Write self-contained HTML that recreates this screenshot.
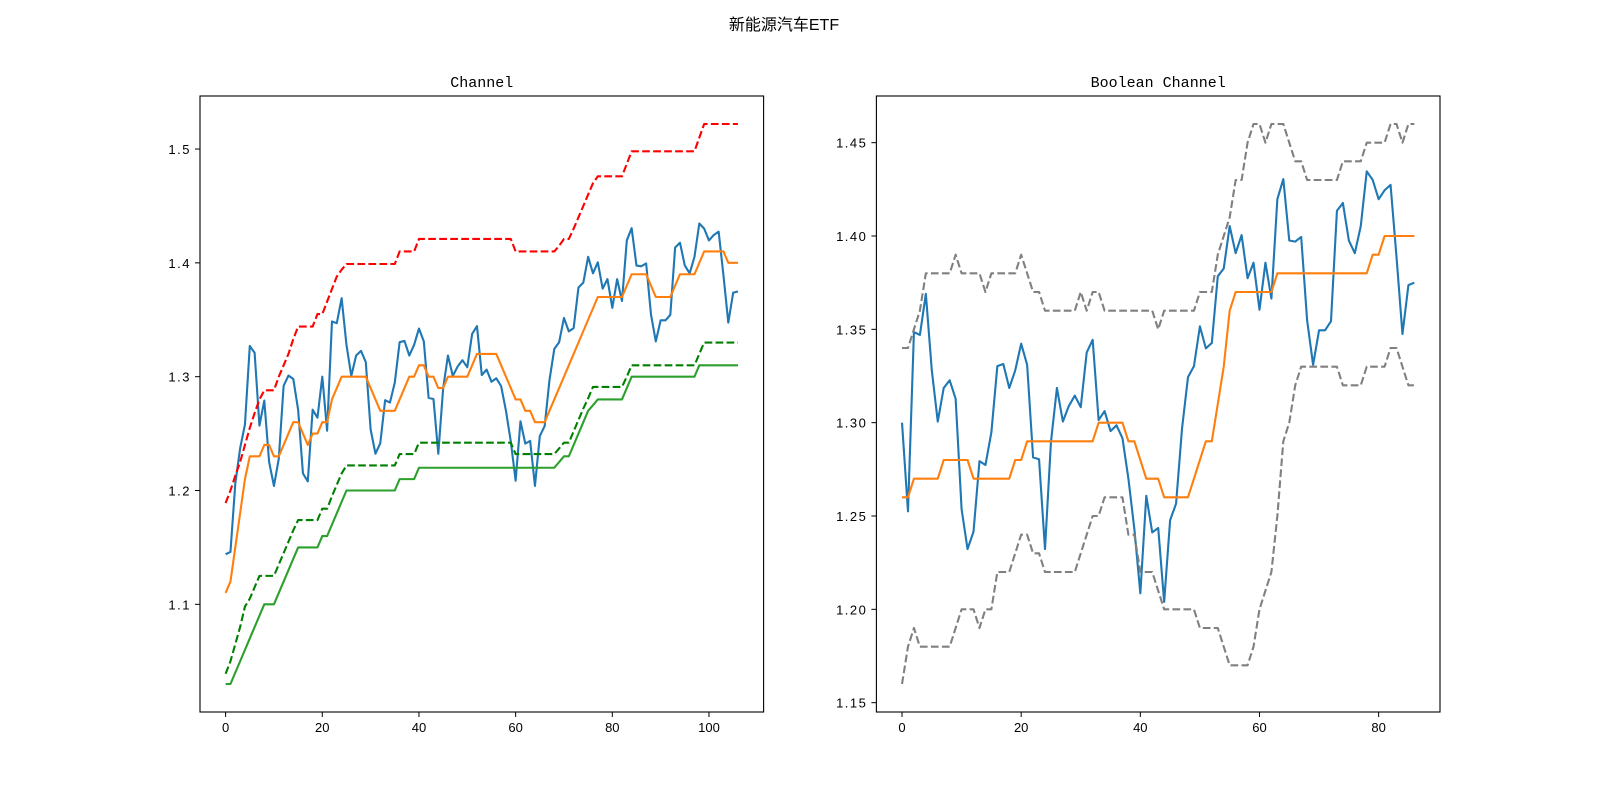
<!DOCTYPE html>
<html><head><meta charset="utf-8">
<style>
html,body{margin:0;padding:0;background:#fff;}
svg{display:block;font-family:"Liberation Sans","WenQuanYi Zen Hei",sans-serif;}
</style></head>
<body>
<svg id="fig" width="1600" height="800" viewBox="0 0 1600 800" xmlns="http://www.w3.org/2000/svg">
<rect width="1600" height="800" fill="#fff"/>
<text x="784" y="30" font-size="16" text-anchor="middle" font-family="'Liberation Sans','WenQuanYi Zen Hei',sans-serif">新能源汽车ETF</text>
<g id="left"></g>
<g id="right"></g>
</svg>
<script>
const closePrice = [1.144,1.146,1.206,1.237,1.258,1.327,1.321,1.257,1.279,1.225,1.204,1.228,1.292,1.301,1.298,1.271,1.215,1.208,1.271,1.264,
1.300,1.2525,1.3485,1.347,1.369,1.328,1.3006,1.3186,1.3227,1.3128,1.2536,1.2323,1.2416,1.2794,1.2773,1.2948,1.3303,1.3314,1.3186,1.328,
1.3423,1.331,1.2814,1.2804,1.2323,1.2897,1.3186,1.3006,1.3089,1.3145,1.3083,1.3376,1.3444,1.3014,1.3062,1.2955,1.2986,1.2917,1.27,1.243,
1.2086,1.2608,1.2412,1.2436,1.204,1.2478,1.2566,1.2969,1.3244,1.3303,1.3516,1.3398,1.3427,1.3784,1.3826,1.4053,1.3908,1.4005,1.3774,1.3857,
1.3605,1.3857,1.3665,1.4197,1.4305,1.3976,1.397,1.3995,1.3547,1.331,1.3495,1.3495,1.3543,1.4135,1.4177,1.3976,1.3908,1.4053,1.4346,1.4301,
1.4197,1.4245,1.4274,1.3888,1.3475,1.3737,1.375];
const midLine = [1.11,1.12,1.15,1.18,1.21,1.23,1.23,1.23,1.24,1.24,1.23,1.23,1.24,1.25,1.26,1.26,1.25,1.24,1.25,1.25,
1.26,1.26,1.28,1.29,1.30,1.30,1.30,1.30,1.30,1.30,1.29,1.28,1.27,1.27,1.27,1.27,1.28,1.29,1.30,1.30,
1.31,1.31,1.30,1.30,1.29,1.29,1.30,1.30,1.30,1.30,1.30,1.31,1.32,1.32,1.32,1.32,1.32,1.31,1.30,1.29,
1.28,1.28,1.27,1.27,1.26,1.26,1.26,1.27,1.28,1.29,1.30,1.31,1.32,1.33,1.34,1.35,1.36,1.37,1.37,1.37,
1.37,1.37,1.37,1.38,1.39,1.39,1.39,1.39,1.38,1.37,1.37,1.37,1.37,1.38,1.39,1.39,1.39,1.39,1.40,1.41,
1.41,1.41,1.41,1.41,1.40,1.40,1.40];
const upperBand = [1.189,1.20,1.213,1.225,1.24,1.255,1.268,1.28,1.288,1.288,1.288,1.30,1.31,1.32,1.333,1.344,1.344,1.344,1.344,1.355,
1.355,1.366,1.377,1.388,1.394,1.399,1.399,1.399,1.399,1.399,1.399,1.399,1.399,1.399,1.399,1.399,1.41,1.41,1.41,1.41,
1.421,1.421,1.421,1.421,1.421,1.421,1.421,1.421,1.421,1.421,1.421,1.421,1.421,1.421,1.421,1.421,1.421,1.421,1.421,1.421,
1.41,1.41,1.41,1.41,1.41,1.41,1.41,1.41,1.41,1.415,1.421,1.421,1.43,1.44,1.45,1.46,1.47,1.476,1.476,1.476,
1.476,1.476,1.476,1.487,1.498,1.498,1.498,1.498,1.498,1.498,1.498,1.498,1.498,1.498,1.498,1.498,1.498,1.498,1.51,1.522,
1.522,1.522,1.522,1.522,1.522,1.522,1.522];
const lowerDashed = [1.039,1.05,1.065,1.08,1.098,1.105,1.115,1.125,1.125,1.125,1.125,1.135,1.145,1.155,1.165,1.174,1.174,1.174,1.174,1.174,
1.184,1.184,1.195,1.205,1.215,1.222,1.222,1.222,1.222,1.222,1.222,1.222,1.222,1.222,1.222,1.222,1.232,1.232,1.232,1.232,
1.242,1.242,1.242,1.242,1.242,1.242,1.242,1.242,1.242,1.242,1.242,1.242,1.242,1.242,1.242,1.242,1.242,1.242,1.242,1.242,
1.232,1.232,1.232,1.232,1.232,1.232,1.232,1.232,1.232,1.237,1.242,1.242,1.252,1.262,1.272,1.281,1.291,1.291,1.291,1.291,
1.291,1.291,1.291,1.30,1.31,1.31,1.31,1.31,1.31,1.31,1.31,1.31,1.31,1.31,1.31,1.31,1.31,1.31,1.32,1.33,
1.33,1.33,1.33,1.33,1.33,1.33,1.33];
const lowerSolid = [1.03,1.03,1.04,1.05,1.06,1.07,1.08,1.09,1.10,1.10,1.10,1.11,1.12,1.13,1.14,1.15,1.15,1.15,1.15,1.15,
1.16,1.16,1.17,1.18,1.19,1.20,1.20,1.20,1.20,1.20,1.20,1.20,1.20,1.20,1.20,1.20,1.21,1.21,1.21,1.21,
1.22,1.22,1.22,1.22,1.22,1.22,1.22,1.22,1.22,1.22,1.22,1.22,1.22,1.22,1.22,1.22,1.22,1.22,1.22,1.22,
1.22,1.22,1.22,1.22,1.22,1.22,1.22,1.22,1.22,1.225,1.23,1.23,1.24,1.25,1.26,1.27,1.275,1.28,1.28,1.28,
1.28,1.28,1.28,1.29,1.30,1.30,1.30,1.30,1.30,1.30,1.30,1.30,1.30,1.30,1.30,1.30,1.30,1.30,1.31,1.31,
1.31,1.31,1.31,1.31,1.31,1.31,1.31];
const boolMid = [1.26,1.26,1.27,1.27,1.27,1.27,1.27,1.28,1.28,1.28,1.28,1.28,1.27,1.27,1.27,1.27,1.27,1.27,1.27,1.28,
1.28,1.29,1.29,1.29,1.29,1.29,1.29,1.29,1.29,1.29,1.29,1.29,1.29,1.30,1.30,1.30,1.30,1.30,1.29,1.29,
1.28,1.27,1.27,1.27,1.26,1.26,1.26,1.26,1.26,1.27,1.28,1.29,1.29,1.31,1.33,1.36,1.37,1.37,1.37,1.37,
1.37,1.37,1.37,1.38,1.38,1.38,1.38,1.38,1.38,1.38,1.38,1.38,1.38,1.38,1.38,1.38,1.38,1.38,1.38,1.39,
1.39,1.40,1.40,1.40,1.40,1.40,1.40];
const boolUpper = [1.34,1.34,1.35,1.36,1.38,1.38,1.38,1.38,1.38,1.39,1.38,1.38,1.38,1.38,1.37,1.38,1.38,1.38,1.38,1.38,
1.39,1.38,1.37,1.37,1.36,1.36,1.36,1.36,1.36,1.36,1.37,1.36,1.37,1.37,1.36,1.36,1.36,1.36,1.36,1.36,
1.36,1.36,1.36,1.35,1.36,1.36,1.36,1.36,1.36,1.36,1.37,1.37,1.37,1.39,1.40,1.41,1.43,1.43,1.45,1.46,
1.46,1.45,1.46,1.46,1.46,1.45,1.44,1.44,1.43,1.43,1.43,1.43,1.43,1.43,1.44,1.44,1.44,1.44,1.45,1.45,
1.45,1.45,1.46,1.46,1.45,1.46,1.46];
const boolLower = [1.16,1.18,1.19,1.18,1.18,1.18,1.18,1.18,1.18,1.19,1.20,1.20,1.20,1.19,1.20,1.20,1.22,1.22,1.22,1.23,
1.24,1.24,1.23,1.23,1.22,1.22,1.22,1.22,1.22,1.22,1.23,1.24,1.25,1.25,1.26,1.26,1.26,1.26,1.24,1.24,
1.22,1.22,1.22,1.21,1.20,1.20,1.20,1.20,1.20,1.20,1.19,1.19,1.19,1.19,1.18,1.17,1.17,1.17,1.17,1.18,
1.20,1.21,1.22,1.25,1.29,1.30,1.32,1.33,1.33,1.33,1.33,1.33,1.33,1.33,1.32,1.32,1.32,1.32,1.33,1.33,
1.33,1.33,1.34,1.34,1.33,1.32,1.32];
const leftXTicks = [0,20,40,60,80,100];
const leftYTicks = [1.1,1.2,1.3,1.4,1.5];
const leftYLabels = ["1.1","1.2","1.3","1.4","1.5"];
const rightXTicks = [0,20,40,60,80];
const rightYTicks = [1.15,1.20,1.25,1.30,1.35,1.40,1.45];
const rightYLabels = ["1.15","1.20","1.25","1.30","1.35","1.40","1.45"];

const NS = "http://www.w3.org/2000/svg";
function mk(parent, tag, attrs){
  const e = document.createElementNS(NS, tag);
  for (const k in attrs) e.setAttribute(k, attrs[k]);
  parent.appendChild(e);
  return e;
}
function makeAxes(g, x0, allSeries, xTicks, yTicks, yLabels, title, titleName){
  const y0 = 96, W = 563.6, H = 616;
  let n = 0, lo = Infinity, hi = -Infinity;
  allSeries.forEach(s => { n = Math.max(n, s.length); s.forEach(v => { lo = Math.min(lo, v); hi = Math.max(hi, v); }); });
  const xmin = -(n-1)*0.05, xmax = (n-1)*1.05;
  const ymin = lo - (hi-lo)*0.05, ymax = hi + (hi-lo)*0.05;
  const sx = v => x0 + (v - xmin) / (xmax - xmin) * W;
  const sy = v => y0 + (ymax - v) / (ymax - ymin) * H;
  const t = mk(g, 'text', {x: x0 + W/2, y: y0 - 9, 'font-size': 15, 'text-anchor': 'middle', 'font-family': "'Liberation Mono',monospace"});
  t.textContent = title;
  
  
  xTicks.forEach(v => {
    const X = sx(v);
    const tk = mk(g, 'line', {x1: X, x2: X, y1: y0+H, y2: y0+H+5, stroke: '#000', 'stroke-width': 1});
    
    
    const lb = mk(g, 'text', {x: X, y: y0+H+20, 'font-size': 13, 'text-anchor': 'middle'});
    lb.textContent = String(v);
    
    
  });
  yTicks.forEach((v, i) => {
    const Y = sy(v);
    const tk = mk(g, 'line', {x1: x0-5, x2: x0, y1: Y, y2: Y, stroke: '#000', 'stroke-width': 1});
    
    
    const lb = mk(g, 'text', {x: x0-9, y: Y+5, 'font-size': 13, 'text-anchor': 'end', 'letter-spacing': '1.5'});
    lb.textContent = yLabels[i];
    
    
  });
  return {sx, sy, x0, y0, W, H};
}
function drawLine(g, ax, data, color, dashed, name){
  const pts = data.map((v, i) => ax.sx(i).toFixed(2) + ',' + ax.sy(v).toFixed(2)).join(' ');
  const p = mk(g, 'polyline', {points: pts, fill: 'none', stroke: color, 'stroke-width': 2.1, 'stroke-linejoin': 'round'});
  if (dashed) p.setAttribute('stroke-dasharray', '7.7,3.3');
  
  
}
function frame(g, ax){
  const r = mk(g, 'rect', {x: ax.x0, y: ax.y0, width: ax.W, height: ax.H, fill: 'none', stroke: '#000', 'stroke-width': 1.1});
  
  
}

const gl = document.getElementById('left');
const axL = makeAxes(gl, 200, [closePrice, midLine, upperBand, lowerDashed, lowerSolid], leftXTicks, leftYTicks, leftYLabels, 'Channel', 'channel-title');
drawLine(gl, axL, closePrice, '#1f77b4', false, 'close-price-line');
drawLine(gl, axL, midLine, '#ff7f0e', false, 'middle-line');
drawLine(gl, axL, upperBand, '#ff0000', true, 'upper-channel-line');
drawLine(gl, axL, lowerDashed, '#008000', true, 'lower-channel-dashed-line');
drawLine(gl, axL, lowerSolid, '#2ca02c', false, 'lower-channel-line');
frame(gl, axL);

const boolClose = closePrice.slice(20);
const gr = document.getElementById('right');
const axR = makeAxes(gr, 876.4, [boolClose, boolMid, boolUpper, boolLower], rightXTicks, rightYTicks, rightYLabels, 'Boolean Channel', 'boolean-channel-title');
drawLine(gr, axR, boolClose, '#1f77b4', false, 'bool-close-price-line');
drawLine(gr, axR, boolMid, '#ff7f0e', false, 'bool-middle-line');
drawLine(gr, axR, boolUpper, '#808080', true, 'bool-upper-band-line');
drawLine(gr, axR, boolLower, '#808080', true, 'bool-lower-band-line');
frame(gr, axR);
</script>
</body></html>
